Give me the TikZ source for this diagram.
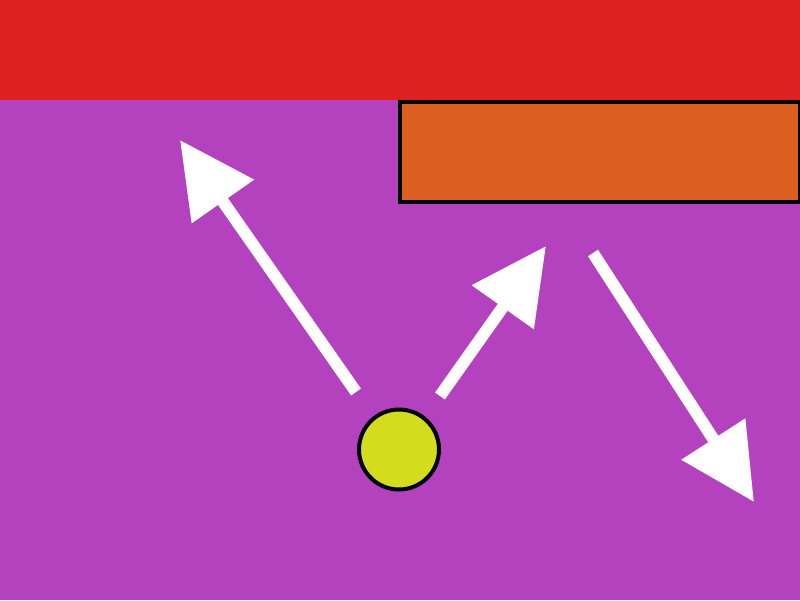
\documentclass[tikz,border=0pt]{standalone}
\usetikzlibrary{arrows.meta}
\definecolor{bgred}{RGB}{223,32,32}
\definecolor{bgpurple}{RGB}{180,65,190}
\definecolor{boxorange}{RGB}{220,94,32}
\definecolor{ballyellow}{RGB}{212,220,30}
\begin{document}
\begin{tikzpicture}[x=1pt,y=-1pt,
  bigarrow/.style={white,line width=12pt,-{Triangle[length=75pt,width=73pt]}},
  outlined/.style={draw=black,line width=4pt}]
\useasboundingbox (0,0) rectangle (800,600);
\fill[bgpurple] (0,0) rectangle (800,600);
\fill[bgred] (0,0) rectangle (800,100);
\node[outlined,fill=boxorange,minimum width=400pt,minimum height=100pt,inner sep=0pt,outer sep=0pt,anchor=north west] (box) at (400,102) {};
\node[outlined,fill=ballyellow,circle,minimum size=80pt,inner sep=0pt] (ball) at (399,449.5) {};
\coordinate (a1s) at (356,392);
\coordinate (a1e) at (180,140);
\coordinate (a2s) at (440,396);
\coordinate (a2e) at (546,246);
\coordinate (a3s) at (593,253);
\coordinate (a3e) at (754,502);
\draw[bigarrow] (a1s) -- (a1e);
\draw[bigarrow] (a2s) -- (a2e);
\draw[bigarrow] (a3s) -- (a3e);
\end{tikzpicture}
\end{document}
